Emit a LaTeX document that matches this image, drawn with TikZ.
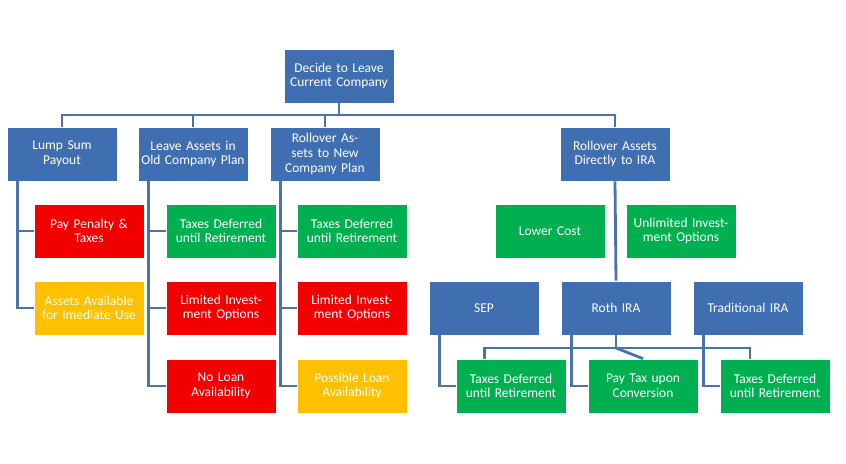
\documentclass[tikz,border=0pt]{standalone}
\usepackage{fontspec}
\setmainfont{Carlito}
\usetikzlibrary{positioning}
\definecolor{boxblue}{HTML}{3F6FB0}
\definecolor{boxgreen}{HTML}{00B050}
\definecolor{boxred}{HTML}{F20000}
\definecolor{boxyellow}{HTML}{FFC000}
\definecolor{linkblue}{HTML}{4A74A8}
\begin{document}
\begin{tikzpicture}[x=0.03cm,y=-0.03cm]
 \tikzset{plan node/.style={rectangle, draw=white, line width=0.6pt,
 		text centered, text=white, minimum width=3.3cm, minimum height=1.62cm,
 		text width=3.2cm, inner sep=1pt, font=\fontsize{11.5}{12.5}\selectfont}, }
 \tikzset{blue node/.style={plan node, fill=boxblue}, }
 \tikzset{green node/.style={plan node, fill=boxgreen}, }
 \tikzset{red node/.style={plan node, fill=boxred}, }
 \tikzset{yellow node/.style={plan node, fill=boxyellow}, }
 \tikzset{linea/.style={draw=linkblue, line width=2.4pt},}
 \useasboundingbox (0,0) rectangle (846,463);
 % levels
 \node[blue node] (top) at (339,76) {Decide to Leave Current Company};
 \node[blue node] (lump) at (62,154) {Lump Sum\\Payout};
 \node[blue node] (old) at (193,154) {Leave Assets in Old Company Plan};
 \node[blue node] (new) at (325,154) {Rollover Assets to New Company Plan};
 \node[blue node] (ira) at (615,154) {Rollover Assets Directly to IRA};
 \coordinate (bus) at (339,115);
 % lump sum
 \node[red node] (penalty) at (89,231) {Pay Penalty \&\\Taxes};
 \node[yellow node] (use) at (89,308) {Assets Available for Imediate Use};
 % old plan
 \node[green node] (olddef) at (221,231) {Taxes Deferred until Retirement};
 \node[red node] (oldlim) at (221,308) {Limited Investment Options};
 \node[red node] (oldloan) at (221,386) {No Loan Availability};
 % new plan
 \node[green node] (newdef) at (352,231) {Taxes Deferred until Retirement};
 \node[red node] (newlim) at (352,308) {Limited Investment Options};
 \node[yellow node] (newloan) at (352,386) {Possible Loan Availability};
 % ira
 \node[green node] (cost) at (550,231) {Lower Cost};
 \node[green node] (unlim) at (681,231) {Unlimited Investment Options};
 \node[blue node] (sep) at (484,308) {SEP};
 \node[blue node] (roth) at (616,308) {Roth IRA};
 \node[blue node] (trad) at (748,308) {Traditional IRA};
 \node[green node] (sepdef) at (511,386) {Taxes Deferred until Retirement};
 \node[green node] (conv) at (643,386) {Pay Tax upon Conversion};
 \node[green node] (traddef) at (775,386) {Taxes Deferred until Retirement};
 \coordinate (rothbus) at (616,348);
 \begin{scope}[on background layer/.try]
 \end{scope}
 % connectors
 \path[linea] (top.south) -- (top.south |- bus);
 \path[linea] (lump.north) -- (lump.north |- bus) -- (ira.north |- bus) -- (ira.north);
 \foreach \x in {old,new}
 \path[linea] (\x.north) -- (\x.north |- bus);
 \foreach \x/\y in {lump/penalty,lump/use,old/olddef,old/oldlim,old/oldloan,new/newdef,new/newlim,new/newloan,sep/sepdef,roth/conv,trad/traddef}
 \path[linea] ([xshift=11*0.03cm]\x.south west) |- (\y.west);
 \path[linea] (ira.south) -- (roth.north);
 \path[linea] (roth.south) -- (rothbus);
 \path[linea] (sepdef.north west) ++(29,0) coordinate (a) |- (rothbus) -| ([xshift=-25*0.03cm]traddef.north);
 \path[linea] (rothbus) -- (conv.north);
 \path[linea] (a) -- (a |- sepdef.north);
 % redraw boxes over the lines
 \foreach \n in {top,lump,old,new,ira,penalty,use,olddef,oldlim,oldloan,newdef,newlim,newloan,cost,unlim,sep,roth,trad,sepdef,conv,traddef}
 \path (\n);
\end{tikzpicture}
\end{document}
